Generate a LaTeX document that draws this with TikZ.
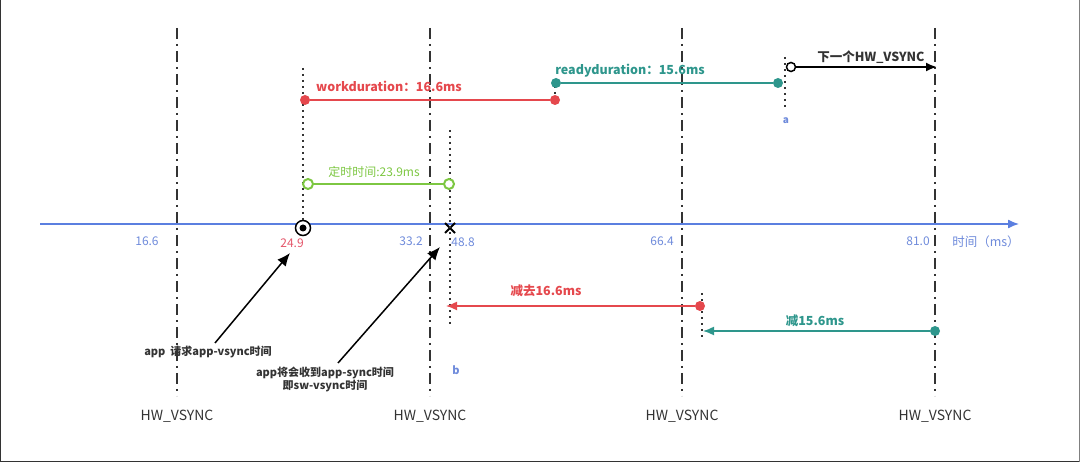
\documentclass[tikz,border=0pt]{standalone}
\usepackage{fontspec}
\setmainfont{Noto Sans CJK SC}
\usepackage{tikz}
\usetikzlibrary{arrows.meta,shapes.misc}
\tikzset{>={Latex[width=9pt,length=11pt]}}
\definecolor{axisblue}{HTML}{5B7FE0}
\definecolor{tickblue}{HTML}{6F8BDB}
\definecolor{workred}{HTML}{E5484D}
\definecolor{tickred}{HTML}{E4566A}
\definecolor{readyteal}{HTML}{2E968C}
\definecolor{timergreen}{HTML}{7DC742}
\definecolor{darkline}{HTML}{333333}
\tikzset{
  vsync/.style={darkline, line width=1.4pt, dash pattern=on 11pt off 5pt on 2pt off 5pt},
  dotline/.style={darkline, line width=2.5pt, dash pattern=on 2.5pt off 3.5pt},
  fulldot/.style={circle, fill=#1, inner sep=0pt, minimum size=10pt},
  opendot/.style={circle, draw=#1, fill=white, line width=2pt, inner sep=0pt, minimum size=10pt},
  ticklabel/.style={font=\fontsize{12}{13}\selectfont, text=tickblue},
  steplabel/.style={font=\fontsize{12.5}{14}\selectfont\bfseries, text=#1},
  notelabel/.style={font=\fontsize{11}{13}\selectfont\bfseries, text=darkline, align=center},
}

\begin{document}
\begin{tikzpicture}[x=1pt,y=-1pt]

  \useasboundingbox (0,0) rectangle (1080,462);
  \draw[line width=2pt, darkline] (0,0) -- (0,462) -- (1080,462);
  \draw[line width=1.5pt, gray] (1080,0) -- (1080,462);

  % HW_VSYNC lines
  \foreach \vx/\vn in {177/v1, 430/v2, 682/v3, 935/v4}{
    \coordinate (\vn top) at (\vx,28);
    \node[font=\fontsize{14}{15}\selectfont, text=darkline] (\vn) at (\vx,416) {HW\_VSYNC};
    \draw[vsync] (\vn top) -- (\vx,396);
  }

  % time axis
  \coordinate (axisL) at (40,224);
  \coordinate (axisR) at (1019,224);
  \draw[->, axisblue, line width=1.3pt] (axisL) -- (axisR);
  \node[ticklabel] (t1) at (147,241) {16.6};
  \node[ticklabel, text=tickred] (t2) at (292,243) {24.9};
  \node[ticklabel] (t3) at (411,241) {33.2};
  \node[ticklabel] (t4) at (463,242) {48.8};
  \node[ticklabel] (t5) at (662,241) {66.4};
  \node[ticklabel] (t6) at (918,241) {81.0};
  \node[ticklabel, font=\fontsize{12.5}{14}\selectfont] (unit) at (986,242) {时间（ms）};

  % request point and receive point
  \node[circle, draw=black, line width=1.5pt, fill=white, inner sep=0pt, minimum size=15pt] (req) at (303,228) {};
  \node[circle, fill=black, inner sep=0pt, minimum size=7pt] at (req) {};
  \node[cross out, draw=black, line width=2pt, inner sep=0pt, minimum size=8pt] (recv) at (450,228) {};

  % dotted markers
  \draw[dotline] (303,68) -- (req);
  \draw[dotline] (555,86) -- (555,100);
  \draw[dotline] (785,57) -- (785,108);
  \node[font=\fontsize{10}{12}\selectfont\bfseries, text=tickblue] (a) at (786,121) {a};
  \draw[dotline] (450,130) -- (450,325);
  \node[font=\fontsize{11}{12}\selectfont\bfseries, text=tickblue] (b) at (456,370) {b};
  \draw[dotline] (702,293) -- (702,340);

  % workduration
  \node[fulldot=workred] (w1) at (305,100) {};
  \node[fulldot=workred] (w2) at (555,100) {};
  \draw[workred, line width=1.5pt] (w1) -- (w2);
  \node[steplabel=workred] (wlab) at (389,86) {workduration：16.6ms};

  % readyduration
  \node[fulldot=readyteal] (r1) at (556,83) {};
  \node[fulldot=readyteal] (r2) at (778,83) {};
  \draw[readyteal, line width=1.5pt] (r1) -- (r2);
  \node[steplabel=readyteal] (rlab) at (630,71) {readyduration：15.6ms};

  % next HW_VSYNC
  \node[opendot=black, line width=1.5pt, minimum size=9pt] (n1) at (791,67) {};
  \coordinate (n2) at (937,67);
  \draw[->, black, line width=2pt] (n1) -- (n2);
  \node[steplabel=darkline] (nlab) at (871,57) {下一个HW\_VSYNC};

  % timer
  \node[opendot=timergreen] (g1) at (308,184) {};
  \node[opendot=timergreen] (g2) at (449,184) {};
  \draw[timergreen, line width=2pt] (g1) -- (g2);
  \node[font=\fontsize{12}{13}\selectfont, text=timergreen] (glab) at (374,172) {定时时间:23.9ms};

  % subtract 16.6
  \node[fulldot=workred] (s1) at (700,306) {};
  \coordinate (s2) at (446,306);
  \draw[->, workred, line width=1.5pt] (s1) -- (s2);
  \node[steplabel=workred] (slab) at (546,291) {减去16.6ms};

  % subtract 15.6
  \node[fulldot=readyteal] (u1) at (935,331) {};
  \coordinate (u2) at (703,331);
  \draw[->, readyteal, line width=1.5pt] (u1) -- (u2);
  \node[steplabel=readyteal] (ulab) at (815,321) {减15.6ms};

  % notes
  \node[notelabel] (note1) at (208,352) {app\ \ 请求app-vsync时间};
  \node[notelabel] (note2) at (325,379) {app将会收到app-sync时间\\即sw-vsync时间};
  \coordinate (p1) at (290,253);
  \coordinate (p2) at (440,247);
  \draw[->, black, line width=1.5pt, >={Latex[width=11pt,length=13pt]}] (215,343) -- (p1);
  \draw[->, black, line width=1.5pt, >={Latex[width=11pt,length=13pt]}] (338,363) -- (p2);

\end{tikzpicture}
\end{document}
